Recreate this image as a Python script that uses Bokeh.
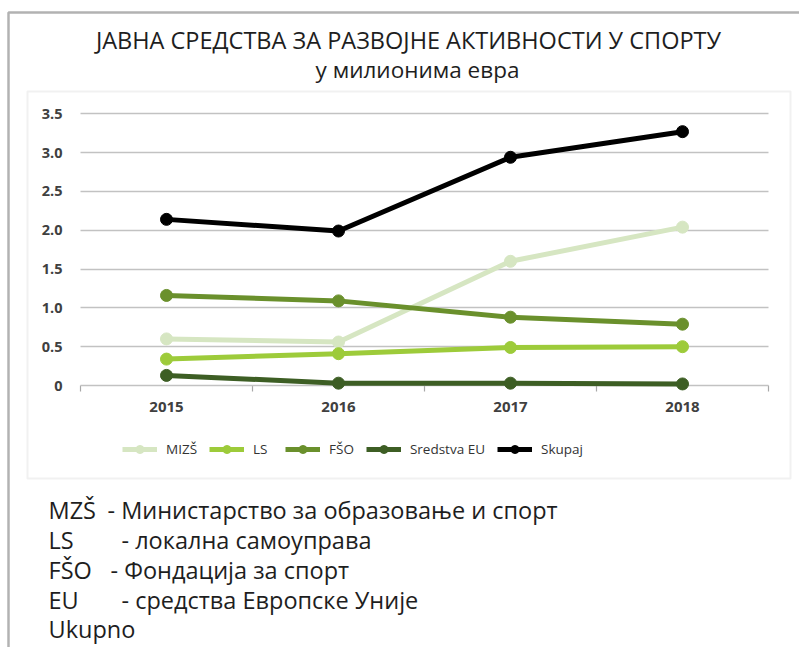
from bokeh.plotting import figure
from bokeh.models import (Range1d, FixedTicker, Label, BoxAnnotation, Legend,
                          LegendItem)
from bokeh.core.properties import value
from bokeh.embed import file_html
from bokeh.resources import INLINE

# ---------------- data ----------------
years = ["2015", "2016", "2017", "2018"]
series_names = ["MIZŠ", "LS", "FŠO", "Sredstva EU", "Skupaj"]
mizs = [0.60, 0.56, 1.60, 2.04]
ls = [0.34, 0.41, 0.49, 0.50]
fso = [1.16, 1.09, 0.88, 0.79]
eu = [0.13, 0.03, 0.03, 0.02]
skupaj = [2.14, 1.99, 2.94, 3.27]
y_ticks = [0, 0.5, 1.0, 1.5, 2.0, 2.5, 3.0, 3.5]
y_tick_labels = ["0", "0.5", "1.0", "1.5", "2.0", "2.5", "3.0", "3.5"]
title_text = "ЈАВНА СРЕДСТВА  ЗА РАЗВОЈНЕ АКТИВНОСТИ У СПОРТУ"
subtitle_text = "у милионима евра"
note_abbr = ["MZŠ", "LS", "FŠO", "EU", "Ukupno"]
note_desc = ["-  Министарство за образовање и спорт", "- локална самоуправа",
             "- Фондација за спорт", "- средства Европске Уније", ""]

# category slots: each year is centred in its own unit-wide band
x_pos = [i + 0.5 for i in range(len(years))]
x_bounds = list(range(len(years) + 1))

# ---------------- style / layout ----------------
colors = ["#d6e6c2", "#9dcb3a", "#6a902c", "#3d5e24", "#000000"]
FONT = "Open Sans"
W, H = 799, 647
X0_PX, X1_PX = 80, 768        # pixel columns of x=0 and x=len(years)
Y0_PX, YTOP_PX = 385, 113.3   # pixel rows of y=0 and y=y_ticks[-1]
x_scale = (X1_PX - X0_PX) / len(years)
y_scale = (Y0_PX - YTOP_PX) / y_ticks[-1]


def sx(px):
    return px


def sy(py):
    return H - py


p = figure(width=W, height=H,
           x_range=Range1d(-X0_PX / x_scale, (W - X0_PX) / x_scale),
           y_range=Range1d(-(H - Y0_PX) / y_scale, Y0_PX / y_scale),
           output_backend="svg", toolbar_location=None,
           min_border=0, min_border_left=0, min_border_right=0,
           min_border_top=0, min_border_bottom=0)
p.outline_line_color = None
p.background_fill_color = "white"
p.border_fill_color = "white"
p.axis.visible = False

grid_color = "#c2c2c2"
p.xgrid.visible = False
yg = p.ygrid[0]
yg.ticker = FixedTicker(ticks=y_ticks)
yg.grid_line_color = grid_color
yg.grid_line_width = 1.5
has_cross = "cross_bounds" in yg.properties()
if has_cross:
    yg.cross_bounds = (0, len(years))
    xg = p.xgrid[0]
    xg.visible = True
    xg.ticker = FixedTicker(ticks=x_bounds)
    xg.cross_bounds = (-6 / y_scale, 0)
    xg.grid_line_color = "#a8a8a8"
    xg.grid_line_width = 1.2
else:
    yg.visible = False
    p.segment(x0=0, x1=len(years), y0=y_ticks, y1=y_ticks,
              line_color=grid_color, line_width=1.5)
    p.segment(x0=x_bounds, x1=x_bounds, y0=0, y1=-6 / y_scale,
              line_color="#a8a8a8", line_width=1.2)

# tick labels
p.text(x=0, y=y_ticks, text=y_tick_labels, x_offset=-18,
       text_align="right", text_baseline="middle", text_font=value(FONT),
       text_font_style="bold", text_font_size="14.5px", text_color="#404040")
p.text(x=x_pos, y=0, text=years, y_offset=16,
       text_align="center", text_baseline="top", text_font=value(FONT),
       text_font_style="bold", text_font_size="15px", text_color="#404040")

items = []
for name, vals, c in zip(series_names, [mizs, ls, fso, eu, skupaj], colors):
    r1 = p.line(x_pos, vals, line_color=c, line_width=5)
    r2 = p.scatter(x_pos, vals, size=12, fill_color=c, line_color=c)
    items.append(LegendItem(label=name, renderers=[r1, r2]))

legend = Legend(items=items, orientation="horizontal",
                location=(sx(122), sy(459)), glyph_width=35, glyph_height=20,
                label_standoff=9, spacing=12, padding=0, margin=0,
                border_line_color=None, background_fill_alpha=0,
                label_text_font=FONT, label_text_font_size="13.5px",
                label_text_color="#333333", label_height=20)
p.add_layout(legend)

# boxes
outer = BoxAnnotation(left=sx(8), top=sy(12), right=sx(W + 20), bottom=sy(H + 20),
                      left_units="screen", right_units="screen",
                      top_units="screen", bottom_units="screen",
                      fill_color=None, fill_alpha=0, line_color="black",
                      line_width=2.5, level="underlay")
inner = BoxAnnotation(left=sx(27), top=sy(91), right=sx(790), bottom=sy(478),
                      left_units="screen", right_units="screen",
                      top_units="screen", bottom_units="screen",
                      fill_color=None, fill_alpha=0, line_color="#d2d2d2",
                      line_width=2, level="underlay")
p.add_layout(outer)
p.add_layout(inner)

# titles
p.add_layout(Label(x=sx(411), y=sy(39), x_units="screen", y_units="screen",
                   text=title_text, text_align="center", text_baseline="middle",
                   text_font=FONT, text_font_size="23.5px", text_color="#1e1e1e"))
p.add_layout(Label(x=sx(417), y=sy(69), x_units="screen", y_units="screen",
                   text=subtitle_text, text_align="center", text_baseline="middle",
                   text_font=FONT, text_font_size="22.5px", text_color="#1e1e1e"))

# footnotes
note_y = [509, 539, 569, 599, 628]
desc_x = [107, 121, 110, 121, 121]
for ab, de, yy, dx in zip(note_abbr, note_desc, note_y, desc_x):
    p.add_layout(Label(x=sx(48), y=sy(yy), x_units="screen", y_units="screen",
                       text=ab, text_align="left", text_baseline="middle",
                       text_font=FONT, text_font_size="23.5px", text_color="#1e1e1e"))
    if de:
        p.add_layout(Label(x=sx(dx), y=sy(yy), x_units="screen", y_units="screen",
                           text=de, text_align="left", text_baseline="middle",
                           text_font=FONT, text_font_size="23.5px", text_color="#1e1e1e"))

open("out.html", "w").write(file_html(p, INLINE))
